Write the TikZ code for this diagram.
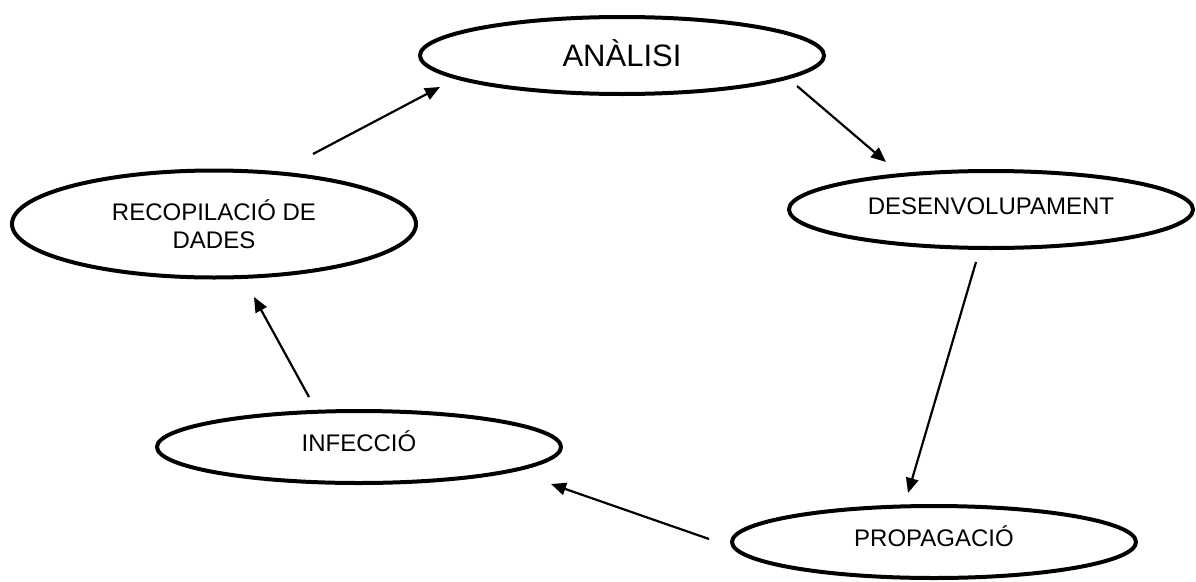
\documentclass[tikz,border=0pt]{standalone}
\usepackage{fontspec}
\setmainfont{Liberation Sans}
\usetikzlibrary{shapes.geometric,arrows.meta}
\begin{document}
\begin{tikzpicture}[x=1pt,y=-1pt,
  stage/.style={ellipse,draw=black,line width=4pt,inner sep=0pt,
    font=\fontsize{24}{27.6}\selectfont,align=center,minimum width=404pt},
  oneline/.style={text height=17pt,text depth=8pt},
  flow/.style={line width=2.2pt,-{Triangle[length=15pt,width=12.5pt]}}]
\useasboundingbox (0,0) rectangle (1196,581);
\node[stage,minimum height=77pt,font=\fontsize{31}{34}\selectfont,text height=22pt,text depth=0pt] (ana) at (622,55.5) {ANÀLISI};
\node[stage,oneline,minimum height=77pt] (des) at (991,209.5) {DESENVOLUPAMENT};
\node[stage,minimum height=107pt] (rec) at (214,224) {RECOPILACIÓ DE\\DADES};
\node[stage,oneline,minimum height=72pt] (inf) at (359,447) {INFECCIÓ};
\node[stage,oneline,minimum height=72pt] (pro) at (934,542) {PROPAGACIÓ};
\coordinate (r1) at (313,154);  \coordinate (a1) at (440,87);
\coordinate (a2) at (797,86);   \coordinate (d1) at (886,162);
\coordinate (d2) at (976,262);  \coordinate (p1) at (908,493);
\coordinate (p2) at (709,539);  \coordinate (i1) at (551,484);
\coordinate (i2) at (309,397);  \coordinate (r2) at (254,297);
\draw[flow] (r1) -- (a1);
\draw[flow] (a2) -- (d1);
\draw[flow] (d2) -- (p1);
\draw[flow] (p2) -- (i1);
\draw[flow] (i2) -- (r2);
\end{tikzpicture}
\end{document}
